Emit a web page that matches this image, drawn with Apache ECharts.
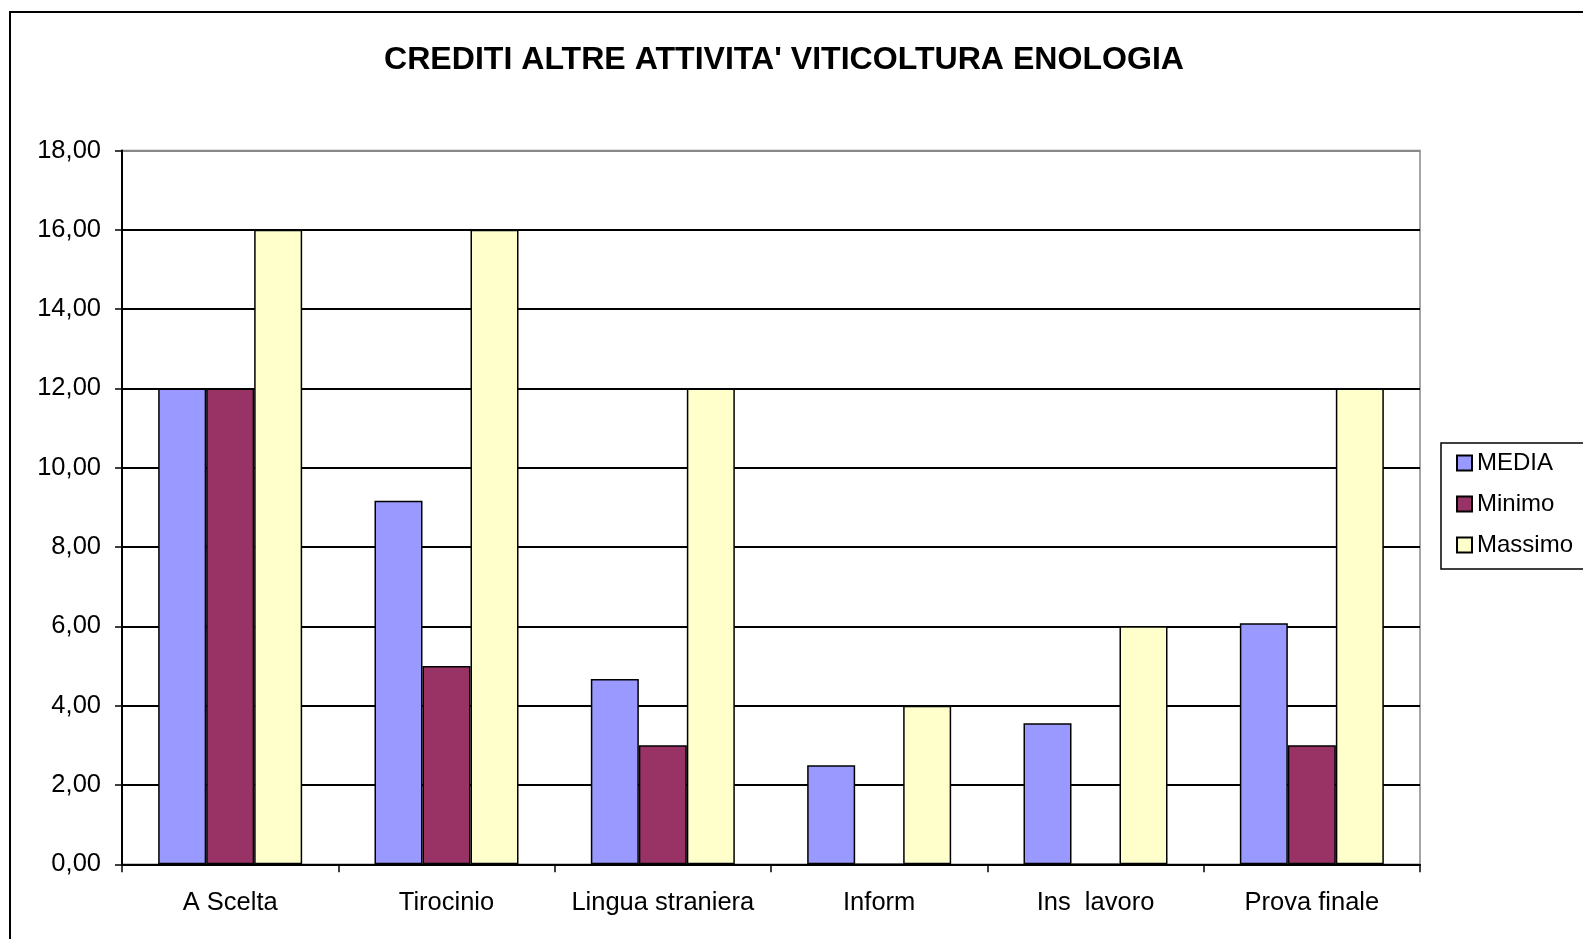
<!DOCTYPE html>
<html>
<head>
<meta charset="utf-8">
<script src="https://cdn.jsdelivr.net/npm/echarts@6/dist/echarts.min.js"></script>
<style>
  html, body { margin: 0; padding: 0; background: #fff; }
  #chart { width: 1583px; height: 939px; }
</style>
</head>
<body>
<div id="chart"></div>
<script>
// dati
const categories = ['A Scelta', 'Tirocinio', 'Lingua straniera', 'Inform', 'Ins  lavoro', 'Prova finale']
const media = [12, 9.17, 4.67, 2.5, 3.56, 6.08]
const minimo = [12, 5, 3, 0, 0, 3]
const massimo = [16, 16, 12, 4, 6, 12]
const yTicks = [0, 2, 4, 6, 8, 10, 12, 14, 16, 18]

const font = '"Liberation Sans", Arial, sans-serif'
const barBorder = { borderColor: '#000', borderWidth: 1.5 }

const chart = echarts.init(document.getElementById('chart'))
chart.setOption({
  animation: false,
  backgroundColor: '#fff',
  title: {
    text: "CREDITI ALTRE ATTIVITA' VITICOLTURA ENOLOGIA",
    left: 379,
    top: 39,
    textStyle: { fontFamily: font, fontSize: 32.1, fontWeight: 'bold', color: '#000' }
  },
  legend: {
    orient: 'vertical',
    left: 1441,
    top: 443,
    padding: [8, 30, 12, 15],
    itemGap: 17,
    itemWidth: 15,
    itemHeight: 15,
    itemTextGap: 13,
    icon: 'rect',
    borderColor: '#000',
    borderWidth: 1.5,
    textStyle: { fontFamily: font, fontSize: 24, color: '#000', lineHeight: 24 },
    data: ['MEDIA', 'Minimo', 'Massimo']
  },
  graphic: [{
    type: 'rect',
    shape: { x: 10, y: 12, width: 1700, height: 1000 },
    style: { fill: 'none', stroke: '#000', lineWidth: 2 },
    silent: true
  }],
  grid: {
    left: 122,
    right: 163,
    top: 150.5,
    bottom: 74.7,
    show: true,
    borderColor: '#888',
    borderWidth: 1.5
  },
  xAxis: {
    type: 'category',
    data: categories,
    axisLine: { lineStyle: { color: '#000', width: 2 } },
    axisTick: { show: true, length: 8, lineStyle: { color: '#000', width: 1.5 } },
    axisLabel: { fontFamily: font, fontSize: 25.5, color: '#000', margin: 26, interval: 0 }
  },
  yAxis: {
    type: 'value',
    min: 0,
    max: 18,
    interval: 2,
    axisLine: { show: true, lineStyle: { color: '#000', width: 2 } },
    axisTick: { show: true, length: 7, lineStyle: { color: '#000', width: 1.5 } },
    axisLabel: {
      fontFamily: font,
      fontSize: 25.5,
      color: '#000',
      margin: 21,
      formatter: v => yTicks.indexOf(v) >= 0 ? v.toFixed(2).replace('.', ',') : ''
    },
    splitLine: {
      lineStyle: {
        color: ['#000', '#000', '#000', '#000', '#000', '#000', '#000', '#000', '#000', '#888'],
        width: 2
      }
    }
  },
  series: [
    {
      name: 'MEDIA',
      type: 'bar',
      barWidth: 48,
      barGap: '0%',
      itemStyle: Object.assign({ color: '#9999FF' }, barBorder),
      data: media
    },
    {
      name: 'Minimo',
      type: 'bar',
      barWidth: 48,
      barGap: '0%',
      itemStyle: Object.assign({ color: '#993366' }, barBorder),
      data: minimo
    },
    {
      name: 'Massimo',
      type: 'bar',
      barWidth: 48,
      barGap: '0%',
      itemStyle: Object.assign({ color: '#FFFFCC' }, barBorder),
      data: massimo
    }
  ]
})
</script>
</body>
</html>
